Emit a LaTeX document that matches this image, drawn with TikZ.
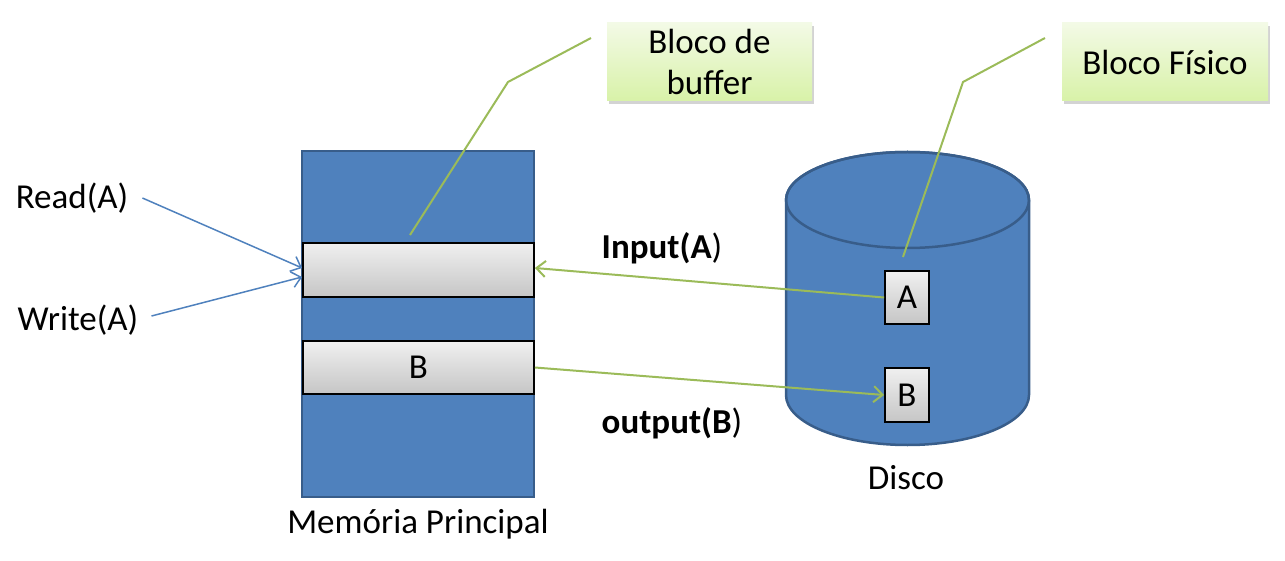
\documentclass[tikz,border=0pt]{standalone}
\usepackage{fontspec}
\setmainfont{Carlito}
\usetikzlibrary{arrows.meta,shadows}
\definecolor{mblue}{HTML}{4F81BD}
\definecolor{dblue}{HTML}{385D8A}
\definecolor{mgreen}{HTML}{9BBB59}
\definecolor{gtop}{HTML}{F3FAE6}
\definecolor{gbot}{HTML}{D8F2A8}
\begin{document}
\begin{tikzpicture}[x=1pt,y=-1pt,
  every node/.style={font=\fontsize{35}{41}\selectfont, inner sep=0pt},
  memrect/.style={draw=dblue, line width=2.2pt, fill=mblue},
  bufrect/.style={draw=black, line width=1.8pt, top color=gray!12, bottom color=gray!45},
  calloutbox/.style={top color=gtop, bottom color=gbot, align=center,
     drop shadow={shadow xshift=1.5pt, shadow yshift=-3pt, opacity=0.35}},
  callline/.style={draw=mgreen, line width=2pt},
  bluearr/.style={draw=mblue, line width=1.5pt, -{Straight Barb[length=9pt,width=16pt,line width=1.5pt]}},
  greenarr/.style={draw=mgreen, line width=2pt, -{Straight Barb[length=9pt,width=16pt,line width=2pt]}}
]
\useasboundingbox (0,0) rectangle (1285,561);

% main memory
\node[memrect, minimum width=232pt, minimum height=346pt] (mem) at (418,324) {};
\node[bufrect, minimum width=231pt, minimum height=54pt] (buf1) at (418.5,270) {};
\node[bufrect, minimum width=231pt, minimum height=53pt] (bufB) at (418.5,367.5) {B};
\node (memlbl) at (418,524) {Memória Principal};

% disk
\path[fill=mblue, draw=dblue, line width=2.5pt]
  (786,200) -- (786,395) arc[start angle=180, end angle=360, x radius=121.5pt, y radius=50pt]
  -- (1029,200) arc[start angle=0, end angle=180, x radius=121.5pt, y radius=48pt] -- cycle;
\draw[dblue, line width=2.5pt] (907.5,200) ellipse[x radius=121.5pt, y radius=48pt];
\node[bufrect, minimum width=44pt, minimum height=53pt] (boxA) at (907,297.5) {A};
\node[bufrect, minimum width=44pt, minimum height=54pt] (boxB) at (907,395) {B};
\node (disklbl) at (906,478) {Disco};

% callouts
\node[calloutbox, minimum width=205pt, minimum height=78pt] (co1) at (709.5,62) {Bloco de\\buffer};
\node[calloutbox, minimum width=206pt, minimum height=78pt] (co2) at (1165,62) {Bloco Físico};
\coordinate (c1a) at (591,38);
\coordinate (c1b) at (508,82);
\coordinate (c1c) at (410,235);
\coordinate (c2a) at (1045,38);
\coordinate (c2b) at (963,82);
\coordinate (c2c) at (903,257);
\draw[callline] (c1a) -- (c1b) -- (c1c);
\draw[callline] (c2a) -- (c2b) -- (c2c);

% read / write
\node (read) at (72,198) {Read(A)};
\node (write) at (78,320) {Write(A)};
\draw[bluearr] ([xshift=14pt]read.east) -- ([yshift=2pt]buf1.west);
\draw[bluearr] ([xshift=13pt,yshift=4pt]write.east) -- ([yshift=-7pt]buf1.west);

% input / output
\draw[greenarr] (boxA.west) -- ([yshift=2pt]buf1.east);
\draw[greenarr] (bufB.east) -- (boxB.west);
\node (inlbl) at (662,248) {\textbf{Input(A})};
\node (outlbl) at (672,423) {\textbf{output(B})};
\end{tikzpicture}
\end{document}
